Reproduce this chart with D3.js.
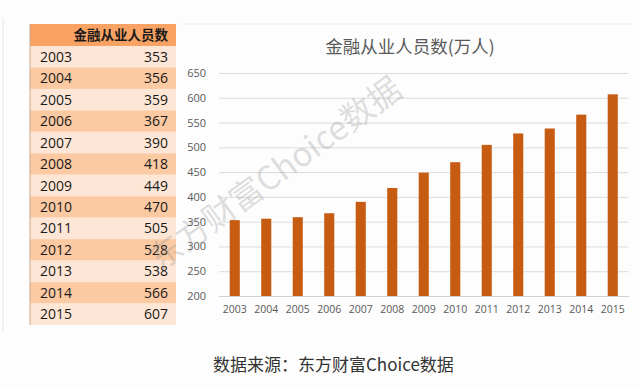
<!DOCTYPE html>
<html>
<head>
<meta charset="utf-8">
<script src="https://cdn.jsdelivr.net/npm/d3@7"></script>
<style>
  body { margin:0; background:#fdfdfd; }
  svg { display:block; }
</style>
</head>
<body>
<svg id="graph"></svg>
<script>
// data
var years  = ["2003","2004","2005","2006","2007","2008","2009","2010","2011","2012","2013","2014","2015"];
var people = [353, 356, 359, 367, 390, 418, 449, 470, 505, 528, 538, 566, 607];
var yTicks = [200, 250, 300, 350, 400, 450, 500, 550, 600, 650];

var tableHeader = "金融从业人员数";
var chartTitle  = "金融从业人员数(万人)";
var sourceText  = "数据来源：东方财富Choice数据";
var watermark   = "东方财富Choice数据";

var screen = { width:640, height:388 };
var cjk = "'Noto Sans CJK SC', 'Noto Sans', sans-serif";
var latin = "'Open Sans', 'Noto Sans', sans-serif";

var svg = d3.select("#graph")
  .attr("width", screen.width)
  .attr("height", screen.height);

// panel edges (faint)
svg.append("line").attr("x1", 3).attr("x2", 3).attr("y1", 18).attr("y2", 332)
  .style("stroke", "#e6e6e6");
svg.append("line").attr("x1", 182).attr("x2", 632).attr("y1", 24).attr("y2", 24)
  .style("stroke", "#ececec");

//---------- table on the left
var table = { left:30, right:176, top:24, headH:22, bottom:325 };

var rowScale = d3.scaleBand()
  .domain(years)
  .range([table.top + table.headH, table.bottom]);

svg.append("rect")
  .attr("x", table.left).attr("y", table.top)
  .attr("width", table.right - table.left).attr("height", table.headH)
  .attr("fill", "#f8a263");
svg.append("text")
  .attr("x", table.right - 8).attr("y", table.top + table.headH/2 + 5)
  .attr("text-anchor", "end")
  .style("font-family", cjk).style("font-size", "13.5px").style("font-weight", "bold")
  .attr("fill", "#1a1a1a")
  .text(tableHeader);

var rows = svg.append("g").selectAll("g")
  .data(years).enter().append("g");

rows.append("rect")
  .attr("x", table.left)
  .attr("y", function(d){ return rowScale(d); })
  .attr("width", table.right - table.left)
  .attr("height", rowScale.bandwidth())
  .attr("fill", function(d, i){ return i % 2 == 0 ? "#fde6d6" : "#fbc9a2"; });

rows.append("text")
  .attr("x", table.left + 10)
  .attr("y", function(d){ return rowScale(d) + rowScale.bandwidth()/2 + 5; })
  .style("font-family", latin).style("font-size", "14px")
  .attr("fill", "#1a1a1a")
  .text(function(d){ return d; });

rows.append("text")
  .attr("x", table.right - 8)
  .attr("y", function(d){ return rowScale(d) + rowScale.bandwidth()/2 + 5; })
  .attr("text-anchor", "end")
  .style("font-family", latin).style("font-size", "14px")
  .attr("fill", "#1a1a1a")
  .text(function(d, i){ return people[i]; });

// thin left edge of the table
svg.append("line")
  .attr("x1", table.left).attr("x2", table.left)
  .attr("y1", table.top).attr("y2", table.bottom)
  .style("stroke", "#c9a58a").style("stroke-width", 1);

//---------- bar chart
var plot = { left:219, right:628.5, top:73, bottom:296 };

var xScale = d3.scaleBand()
  .domain(years)
  .range([plot.left, plot.right])
  .paddingInner(0.68)
  .paddingOuter(0.34);

var yScale = d3.scaleLinear()
  .domain([200, 650])
  .range([plot.bottom, plot.top]);

svg.append("text")
  .attr("x", 410).attr("y", 53)
  .attr("text-anchor", "middle")
  .style("font-family", cjk).style("font-size", "17.5px")
  .attr("fill", "#595959")
  .text(chartTitle);

// gridlines
var yAxis = d3.axisLeft(yScale)
  .tickValues(yTicks)
  .tickSize(-(plot.right - plot.left))
  .tickPadding(13);

var yAxisG = svg.append("g")
  .attr("transform", "translate(" + plot.left + ",0)")
  .call(yAxis);
yAxisG.select(".domain").remove();
yAxisG.selectAll("line").style("stroke", "#dcdcdc");
yAxisG.selectAll("text")
  .style("font-family", latin).style("font-size", "11px")
  .attr("fill", "#595959");

// watermark behind the bars
svg.append("text")
  .attr("transform", "translate(282,183) rotate(-36)")
  .attr("text-anchor", "middle")
  .style("font-family", cjk).style("font-size", "33px")
  .attr("fill", "#8c8c8c").attr("fill-opacity", 0.28)
  .text(watermark);

svg.append("g").selectAll("rect")
  .data(years).enter().append("rect")
  .attr("x", function(d){ return xScale(d); })
  .attr("y", function(d, i){ return yScale(people[i]); })
  .attr("width", xScale.bandwidth())
  .attr("height", function(d, i){ return plot.bottom - yScale(people[i]); })
  .attr("fill", "#c65b12");

var xAxis = d3.axisBottom(xScale).tickSize(0).tickPadding(10);
var xAxisG = svg.append("g")
  .attr("transform", "translate(0," + plot.bottom + ")")
  .call(xAxis);
xAxisG.select(".domain").style("stroke", "#d0d0d0");
xAxisG.selectAll("text")
  .style("font-family", latin).style("font-size", "10.5px")
  .attr("fill", "#595959");

// source line
svg.append("text")
  .attr("x", 213).attr("y", 371)
  .style("font-family", cjk).style("font-size", "17px")
  .attr("fill", "#333333")
  .text(sourceText);
</script>
</body>
</html>
